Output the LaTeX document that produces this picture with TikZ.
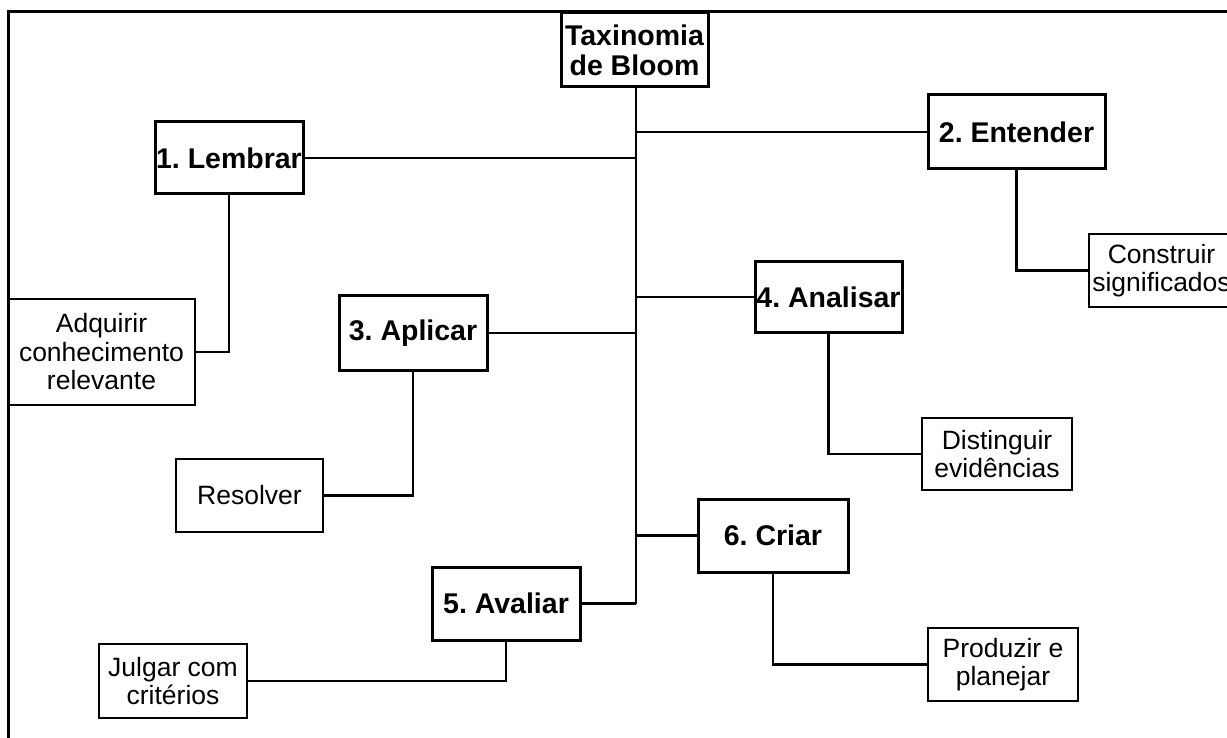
\documentclass[tikz,border=0pt]{standalone}
\usepackage{fontspec}
\setmainfont{Liberation Sans}
\frenchspacing

\begin{document}
\begin{tikzpicture}[x=1pt,y=-1pt,
    lvl/.style={draw,line width=3pt,inner sep=1pt,align=center,
      minimum width=148pt,minimum height=73pt,
      font=\fontsize{28.5}{30}\selectfont\bfseries},
    act/.style={draw,line width=2.5pt,inner sep=1pt,align=center,
      minimum width=148pt,minimum height=73pt,
      font=\fontsize{26.5}{28.5}\selectfont},
    wire/.style={line width=2.2pt}]
  \useasboundingbox (0,0) rectangle (1227,738);
  \clip (0,0) rectangle (1227,738);
  \draw[line width=3pt] (8,12) rectangle (1260,780);

  % levels
  \node[lvl,minimum width=147pt,minimum height=74pt] (tax) at (634.5,50) {Taxinomia\\de Bloom};
  \node[lvl,minimum height=72pt] (lemb) at (229,158) {1. Lembrar};
  \node[lvl,minimum width=177pt,minimum height=74pt] (ent) at (1016.5,132) {2. Entender};
  \node[lvl,minimum height=74pt] (apl) at (413,333) {3. Aplicar};
  \node[lvl,minimum width=147pt,minimum height=70pt] (ana) at (828.5,297) {4. Analisar};
  \node[lvl] (aval) at (506,603.5) {5. Avaliar};
  \node[lvl,minimum width=150pt] (criar) at (773,535.5) {6. Criar};

  % actions
  \node[act,minimum width=187pt,minimum height=106pt] (adq) at (101.5,352) {Adquirir\\conhecimento\\relevante};
  \node[act,minimum width=145pt] (cons) at (1161.5,270.5) {Construir\\significados};
  \node[act,minimum width=147pt] (res) at (249.5,495.5) {Resolver};
  \node[act,minimum width=150pt,minimum height=72pt] (dist) at (997,454) {Distinguir\\evidências};
  \node[act,minimum height=74pt] (julg) at (173,681) {Julgar com\\critérios};
  \node[act,minimum width=150pt] (prod) at (1003,664.5) {Produzir e\\planejar};

  \coordinate (tbot) at (636,603.5);
  \draw[wire] (tax.south -| tbot) -- (tbot);
  \foreach \n in {lemb,apl,aval} {
    \draw[wire] (\n.east) -- (\n.east -| tbot);
  }
  \foreach \n in {ent,ana,criar} {
    \draw[wire] (tbot |- \n.west) -- (\n.west);
  }
  \foreach \p/\c in {lemb/adq,apl/res,aval/julg} {
    \draw[wire] (\p.south) |- (\c.east);
  }
  \foreach \p/\c in {ent/cons,ana/dist,criar/prod} {
    \draw[wire] (\p.south) |- (\c.west);
  }
\end{tikzpicture}
\end{document}
